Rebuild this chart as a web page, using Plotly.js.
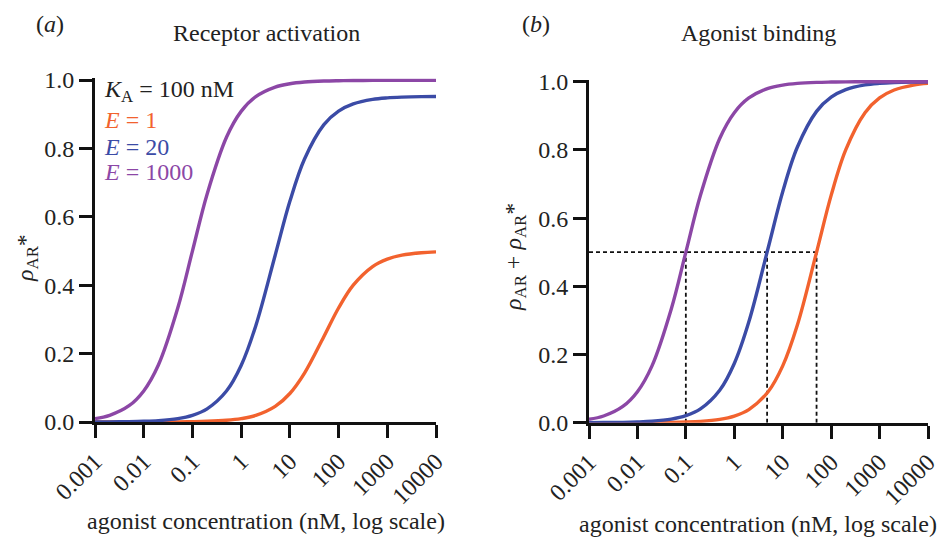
<!DOCTYPE html>
<html>
<head>
<meta charset="utf-8">
<script src="https://cdn.plot.ly/plotly-3.0.1.min.js"></script>
<style>html,body{margin:0;padding:0;background:#fff;}#chart{width:938px;height:537px;}</style>
</head>
<body>
<div id="chart"></div>
<script>
// agonist concentration (nM)
const conc = [0.001,0.002,0.005,0.01,0.02,0.05,0.1,0.2,0.5,1,2,5,10,20,50,100,200,500,1000,2000,5000,10000];

// Panel (a): receptor activation rho_AR*
const actE1    = [0.00001,0.00002,0.00005,0.0001,0.0002,0.0005,0.001,0.002,0.005,0.0098,0.0192,0.0455,0.0833,0.1429,0.25,0.3333,0.4,0.4545,0.4762,0.4878,0.495,0.4975];
const actE20   = [0.0002,0.0004,0.001,0.002,0.004,0.0099,0.0196,0.0384,0.0905,0.1653,0.2817,0.4878,0.6452,0.7692,0.8696,0.9091,0.9302,0.9434,0.9479,0.9501,0.9515,0.9519];
const actE1000 = [0.0099,0.0196,0.0476,0.0909,0.1666,0.3332,0.4998,0.6662,0.8326,0.9083,0.9515,0.9794,0.9891,0.994,0.997,0.998,0.9985,0.9988,0.9989,0.999,0.999,0.999];

// Panel (b): agonist binding rho_AR + rho_AR*
const bindE1    = [0.00002,0.00004,0.0001,0.0002,0.0004,0.001,0.002,0.004,0.00995,0.0196,0.0385,0.0909,0.1667,0.2857,0.5,0.6667,0.8,0.9091,0.9524,0.9756,0.9901,0.995];
const bindE20   = [0.0002,0.0004,0.001,0.0021,0.0042,0.0104,0.0206,0.0403,0.095,0.1736,0.2958,0.5122,0.6774,0.8077,0.913,0.9545,0.9767,0.9906,0.9953,0.9976,0.999,0.9995];
const bindE1000 = [0.0099,0.0196,0.0477,0.091,0.1668,0.3336,0.5002,0.6669,0.8335,0.9092,0.9524,0.9804,0.9901,0.995,0.998,0.999,0.9995,0.9998,0.9999,1.0,1.0,1.0];

// half-maximal binding concentrations and level
const halfConc = [0.0999, 4.76, 50];
const halfLevel = 0.5;
const xStart = 0.001;

const tickVals = [0.001,0.01,0.1,1,10,100,1000,10000];
const tickText = ['0.001','0.01','0.1','1','10','100','1000','10000'];
const yTickVals = [0,0.2,0.4,0.6,0.8,1.0];
const yTickText = ['0.0','0.2','0.4','0.6','0.8','1.0'];

const cOrange = '#f2622e', cBlue = '#3b4ba6', cPurple = '#8c47a6';
const FONT = 'Liberation Serif';
const FS = 24;

function curve(y, color, xa, ya) {
  return {x: conc, y: y, xaxis: xa, yaxis: ya, type: 'scatter', mode: 'lines',
          line: {color: color, width: 3.4, shape: 'spline', smoothing: 1}, hoverinfo: 'skip'};
}

const traces = [];
// dashed guides in panel b
traces.push({x: [xStart, halfConc[2]], y: [halfLevel, halfLevel], xaxis: 'x2', yaxis: 'y2', mode: 'lines',
             line: {color: '#111', width: 1.8, dash: '4px,3px'}, hoverinfo: 'skip'});
halfConc.forEach(c => traces.push({x: [c, c], y: [0, halfLevel], xaxis: 'x2', yaxis: 'y2', mode: 'lines',
             line: {color: '#111', width: 1.8, dash: '4px,3px'}, hoverinfo: 'skip'}));

traces.push(curve(actE1, cOrange, 'x', 'y'));
traces.push(curve(actE20, cBlue, 'x', 'y'));
traces.push(curve(actE1000, cPurple, 'x', 'y'));
traces.push(curve(bindE1, cOrange, 'x2', 'y2'));
traces.push(curve(bindE20, cBlue, 'x2', 'y2'));
traces.push(curve(bindE1000, cPurple, 'x2', 'y2'));

const xBase = {type: 'log', range: [-3, 4], showgrid: false, zeroline: false, showline: true, linecolor: '#111', linewidth: 3,
  ticks: 'outside', ticklen: 13, tickwidth: 3, tickcolor: '#111', tickvals: tickVals, ticktext: tickText, tickangle: -45,
  ticklabeloverflow: 'allow', tickfont: {family: FONT, size: FS, color: '#222'}, automargin: false};
const yBase = {range: [0, 1.005], showgrid: false, zeroline: false, showline: true, linecolor: '#111', linewidth: 3,
  ticks: 'outside', ticklen: 13, tickwidth: 3, tickcolor: '#111', tickvals: yTickVals, ticktext: yTickText,
  ticklabeloverflow: 'allow', tickfont: {family: FONT, size: FS, color: '#222'}, automargin: false};

const ann = (text, x, y, opts) => Object.assign({text: text, x: x, y: y, xref: 'paper', yref: 'paper', showarrow: false,
  xanchor: 'center', yanchor: 'middle', font: {family: FONT, size: FS, color: '#222'}}, opts || {});
const W = 938, H = 537;
const px = v => v / W, py = v => 1 - v / H;

const layout = {
  width: W, height: H, margin: {l: 0, r: 0, t: 0, b: 0}, paper_bgcolor: '#fff', plot_bgcolor: 'rgba(0,0,0,0)',
  showlegend: false,
  xaxis: Object.assign({}, xBase, {domain: [px(95), px(436)], anchor: 'y'}),
  yaxis: Object.assign({}, yBase, {domain: [py(422), py(78.3)], anchor: 'x'}),
  xaxis2: Object.assign({}, xBase, {domain: [px(589), px(928)], anchor: 'y2'}),
  yaxis2: Object.assign({}, yBase, {domain: [py(422.7), py(80)], anchor: 'x2'}),
  annotations: [
    ann('(<i>a</i>)', px(50), py(24)),
    ann('(<i>b</i>)', px(536), py(24)),
    ann('Receptor activation', px(266), py(33)),
    ann('Agonist binding', px(758), py(33)),
    ann('agonist concentration (nM, log scale)', px(266), py(521)),
    ann('agonist concentration (nM, log scale)', px(758), py(524)),
    ann('<i>ρ</i><sub>AR</sub>*', px(27), py(258), {textangle: -90}),
    ann('<i>ρ</i><sub>AR</sub> + <i>ρ</i><sub>AR</sub>*', px(515), py(257), {textangle: -90}),
    ann('<i>K</i><sub>A</sub> = 100 nM', px(102), py(91), {xanchor: 'left'}),
    ann('<i>E</i> = 1', px(102), py(120), {xanchor: 'left', font: {family: FONT, size: FS, color: cOrange}}),
    ann('<i>E</i> = 20', px(102), py(147), {xanchor: 'left', font: {family: FONT, size: FS, color: cBlue}}),
    ann('<i>E</i> = 1000', px(102), py(172), {xanchor: 'left', font: {family: FONT, size: FS, color: cPurple}})
  ]
};

Plotly.newPlot('chart', traces, layout, {staticPlot: true, displayModeBar: false});
</script>
</body>
</html>
